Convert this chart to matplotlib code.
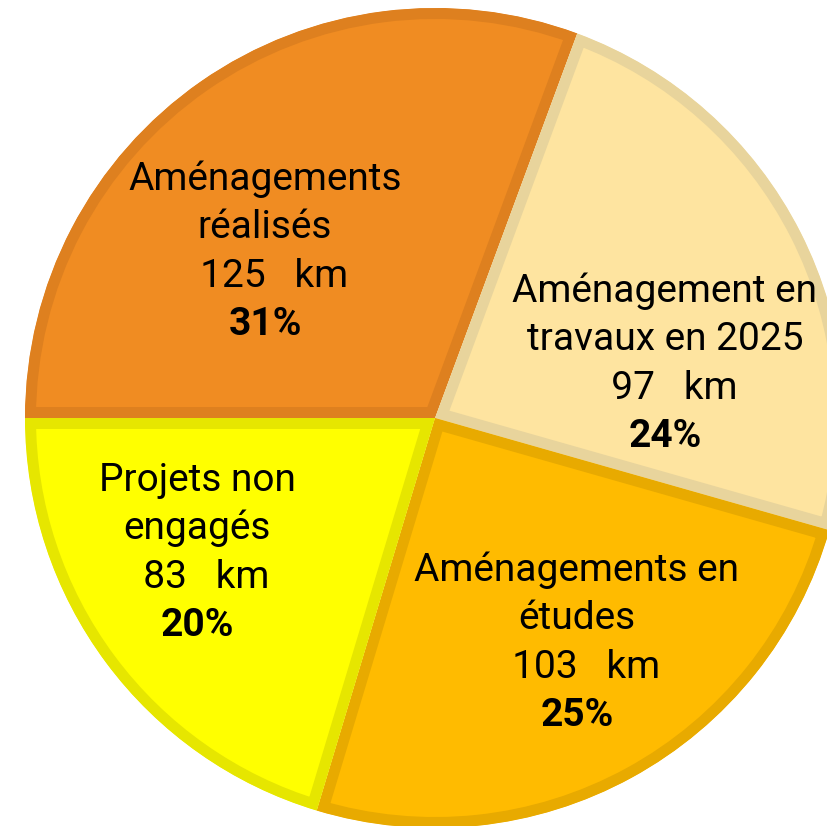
import matplotlib
matplotlib.use("Agg")
import matplotlib.pyplot as plt

# Data
categories = ["Aménagements réalisés", "Aménagement en travaux en 2025",
              "Aménagements en études", "Projets non engagés"]
km_values = [125, 97, 103, 83]
pct_labels = ["31%", "24%", "25%", "20%"]
name_lines = [["Aménagements", "réalisés"],
              ["Aménagement en", "travaux en 2025"],
              ["Aménagements en", "études"],
              ["Projets non", "engagés"]]

# Styles
fill_colors = ["#F08C22", "#FEE4A0", "#FFBB00", "#FFFF00"]
edge_colors = ["#DE801F", "#E8D49C", "#E8AA00", "#E6E600"]

W, H = 828, 826
fig = plt.figure(figsize=(W / 100, H / 100), dpi=100)
ax = fig.add_axes([0, 0, 1, 1])

cx, cy_top, R = 435, 418, 410
wedges, _ = ax.pie(km_values, colors=fill_colors, startangle=180,
                   counterclock=False, center=(cx, H - cy_top), radius=R,
                   frame=False)
for w, ec in zip(wedges, edge_colors):
    w.set_edgecolor(ec)
    w.set_linewidth(22 * 0.72)
    w.set_clip_path(w)
    w.set_clip_on(True)

ax.set_xlim(0, W)
ax.set_ylim(0, H)
ax.set_aspect("auto")
ax.axis("off")

# label layout (pixel x centre, first baseline y from top)
label_layout = [(265, 190), (665, 302), (577, 581), (197, 491)]
step = 48.3
fs = 28
for lines, km, pct, (lx, by) in zip(name_lines, km_values, pct_labels, label_layout):
    all_lines = lines + [f"  {km}   km"]
    for i, t in enumerate(all_lines):
        ax.text(lx, H - (by + i * step), t, ha="center", va="baseline",
                fontsize=fs, family="Roboto", color="black")
    ax.text(lx, H - (by + len(all_lines) * step), pct, ha="center",
            va="baseline", fontsize=fs, family="Roboto", fontweight="bold",
            color="black")

fig.savefig("out.png", dpi=100)
